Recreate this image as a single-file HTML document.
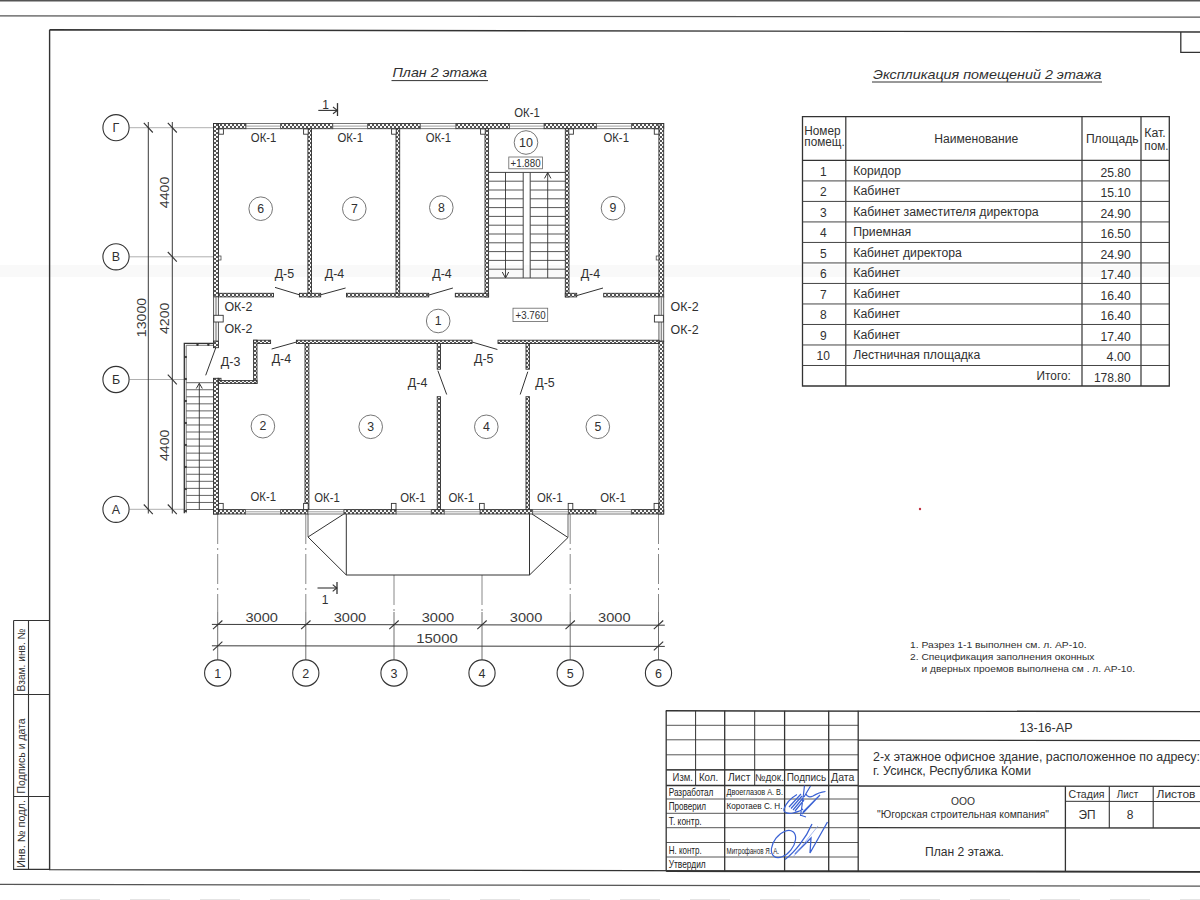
<!DOCTYPE html>
<html><head><meta charset="utf-8"><title>План 2 этажа</title>
<style>
html,body{margin:0;padding:0;background:#fff;}
body{width:1200px;height:900px;overflow:hidden;font-family:"Liberation Sans",sans-serif;}
svg{display:block;}
</style></head><body>
<svg width="1200" height="900" viewBox="0 0 1200 900" font-family="Liberation Sans">
<defs>
<pattern id="hatch" patternUnits="userSpaceOnUse" width="4" height="4">
<rect width="4" height="4" fill="#f8f8f8"/><rect width="2" height="2" fill="#555"/><rect x="2" y="2" width="2" height="2" fill="#555"/>
</pattern>
</defs>
<rect width="1200" height="900" fill="#fff"/>
<rect x="0" y="265" width="1200" height="12" fill="#f9f9f9"/>
<line x1="0" y1="0.8" x2="1200" y2="0.8" stroke="#555" stroke-width="1.6"/>
<line x1="0" y1="15.8" x2="1200" y2="17.2" stroke="#555" stroke-width="1.2"/>
<path d="M49.6 29.8 L1200 32 M49.6 29.8 L49.6 869.6 L1200 871.6" stroke="#333" stroke-width="1.4" fill="none"/>
<path d="M1180.8 32 L1180.8 52.4 L1200 52.4" stroke="#333" stroke-width="1.3" fill="none"/>
<line x1="0" y1="884.4" x2="1200" y2="886.2" stroke="#555" stroke-width="1.2"/>
<line x1="60" y1="899.5" x2="1200" y2="899.5" stroke="#e4e4e4" stroke-width="1" stroke-dasharray="40 30"/>
<path d="M13.6 620.5 L49.6 620.5 M13.6 620.5 L13.6 869.4 L49.6 869.4 M28.5 620.5 L28.5 869.4 M13.6 694.5 L49.6 694.5 M13.6 796.5 L49.6 796.5" stroke="#333" stroke-width="1.1" fill="none"/>
<text transform="translate(24.8,660) rotate(-90)" font-family="Liberation Sans" font-size="10.5" text-anchor="middle" fill="#333" textLength="63" lengthAdjust="spacingAndGlyphs">Взам. инв. №</text>
<text transform="translate(24.8,756) rotate(-90)" font-family="Liberation Sans" font-size="10.5" text-anchor="middle" fill="#333" textLength="75" lengthAdjust="spacingAndGlyphs">Подпись и дата</text>
<text transform="translate(24.8,834) rotate(-90)" font-family="Liberation Sans" font-size="10.5" text-anchor="middle" fill="#333" textLength="68" lengthAdjust="spacingAndGlyphs">Инв. № подл.</text>
<text x="392.5" y="76.5" font-size="13" text-anchor="start" fill="#303030" font-family="Liberation Sans" textLength="94.5" lengthAdjust="spacingAndGlyphs" font-style="italic">План 2 этажа</text>
<line x1="391.5" y1="80.6" x2="488" y2="80.6" stroke="#333" stroke-width="1"/>
<text x="873" y="79" font-size="13" text-anchor="start" fill="#303030" font-family="Liberation Sans" textLength="228.5" lengthAdjust="spacingAndGlyphs" font-style="italic">Экспликация помещений 2 этажа</text>
<line x1="872" y1="82" x2="1102" y2="82" stroke="#333" stroke-width="1"/>
<path d="M802.5 116.6 H1169.3 V386 H802.5 Z" stroke="#333" stroke-width="1.3" fill="none"/>
<line x1="845.8" y1="116.6" x2="845.8" y2="386" stroke="#333" stroke-width="1.2"/>
<line x1="1082" y1="116.6" x2="1082" y2="386" stroke="#333" stroke-width="1.2"/>
<line x1="1141" y1="116.6" x2="1141" y2="386" stroke="#333" stroke-width="1.2"/>
<line x1="802.5" y1="160.4" x2="1169.3" y2="160.4" stroke="#333" stroke-width="1.2"/>
<line x1="802.5" y1="180.91" x2="1169.3" y2="180.91" stroke="#444" stroke-width="1"/>
<line x1="802.5" y1="201.42" x2="1169.3" y2="201.42" stroke="#444" stroke-width="1"/>
<line x1="802.5" y1="221.93" x2="1169.3" y2="221.93" stroke="#444" stroke-width="1"/>
<line x1="802.5" y1="242.44" x2="1169.3" y2="242.44" stroke="#444" stroke-width="1"/>
<line x1="802.5" y1="262.95" x2="1169.3" y2="262.95" stroke="#444" stroke-width="1"/>
<line x1="802.5" y1="283.45" x2="1169.3" y2="283.45" stroke="#444" stroke-width="1"/>
<line x1="802.5" y1="303.96" x2="1169.3" y2="303.96" stroke="#444" stroke-width="1"/>
<line x1="802.5" y1="324.47" x2="1169.3" y2="324.47" stroke="#444" stroke-width="1"/>
<line x1="802.5" y1="344.98" x2="1169.3" y2="344.98" stroke="#444" stroke-width="1"/>
<line x1="802.5" y1="365.49" x2="1169.3" y2="365.49" stroke="#444" stroke-width="1"/>
<text x="804.3" y="135.2" font-size="12" text-anchor="start" fill="#303030" font-family="Liberation Sans" textLength="36.3" lengthAdjust="spacingAndGlyphs">Номер</text>
<text x="804.3" y="146.3" font-size="12" text-anchor="start" fill="#303030" font-family="Liberation Sans" textLength="40.4" lengthAdjust="spacingAndGlyphs">помещ.</text>
<text x="934.2" y="143" font-size="12" text-anchor="start" fill="#303030" font-family="Liberation Sans" textLength="84" lengthAdjust="spacingAndGlyphs">Наименование</text>
<text x="1085.9" y="143.2" font-size="12" text-anchor="start" fill="#303030" font-family="Liberation Sans" textLength="52.6" lengthAdjust="spacingAndGlyphs">Площадь</text>
<text x="1144.3" y="137.1" font-size="12" text-anchor="start" fill="#303030" font-family="Liberation Sans" textLength="21.5" lengthAdjust="spacingAndGlyphs">Кат.</text>
<text x="1144.3" y="150" font-size="12" text-anchor="start" fill="#303030" font-family="Liberation Sans" textLength="24.2" lengthAdjust="spacingAndGlyphs">пом.</text>
<text x="823.3" y="175.9" font-size="12" text-anchor="middle" fill="#303030" font-family="Liberation Sans">1</text>
<text x="853.2" y="174.6" font-size="12" text-anchor="start" fill="#303030" font-family="Liberation Sans" textLength="47.8" lengthAdjust="spacingAndGlyphs">Коридор</text>
<text x="1130.8" y="176.6" font-size="12" text-anchor="end" fill="#303030" font-family="Liberation Sans" textLength="30.4" lengthAdjust="spacingAndGlyphs">25.80</text>
<text x="823.3" y="196.41" font-size="12" text-anchor="middle" fill="#303030" font-family="Liberation Sans">2</text>
<text x="853.2" y="195.11" font-size="12" text-anchor="start" fill="#303030" font-family="Liberation Sans" textLength="47.1" lengthAdjust="spacingAndGlyphs">Кабинет</text>
<text x="1130.8" y="197.11" font-size="12" text-anchor="end" fill="#303030" font-family="Liberation Sans" textLength="30.4" lengthAdjust="spacingAndGlyphs">15.10</text>
<text x="823.3" y="216.92" font-size="12" text-anchor="middle" fill="#303030" font-family="Liberation Sans">3</text>
<text x="853.2" y="215.62" font-size="12" text-anchor="start" fill="#303030" font-family="Liberation Sans" textLength="185.5" lengthAdjust="spacingAndGlyphs">Кабинет заместителя директора</text>
<text x="1130.8" y="217.62" font-size="12" text-anchor="end" fill="#303030" font-family="Liberation Sans" textLength="30.4" lengthAdjust="spacingAndGlyphs">24.90</text>
<text x="823.3" y="237.43" font-size="12" text-anchor="middle" fill="#303030" font-family="Liberation Sans">4</text>
<text x="853.2" y="236.13" font-size="12" text-anchor="start" fill="#303030" font-family="Liberation Sans" textLength="58.1" lengthAdjust="spacingAndGlyphs">Приемная</text>
<text x="1130.8" y="238.13" font-size="12" text-anchor="end" fill="#303030" font-family="Liberation Sans" textLength="30.4" lengthAdjust="spacingAndGlyphs">16.50</text>
<text x="823.3" y="257.94" font-size="12" text-anchor="middle" fill="#303030" font-family="Liberation Sans">5</text>
<text x="853.2" y="256.64" font-size="12" text-anchor="start" fill="#303030" font-family="Liberation Sans" textLength="108.6" lengthAdjust="spacingAndGlyphs">Кабинет директора</text>
<text x="1130.8" y="258.64" font-size="12" text-anchor="end" fill="#303030" font-family="Liberation Sans" textLength="30.4" lengthAdjust="spacingAndGlyphs">24.90</text>
<text x="823.3" y="278.45" font-size="12" text-anchor="middle" fill="#303030" font-family="Liberation Sans">6</text>
<text x="853.2" y="277.15" font-size="12" text-anchor="start" fill="#303030" font-family="Liberation Sans" textLength="47.1" lengthAdjust="spacingAndGlyphs">Кабинет</text>
<text x="1130.8" y="279.15" font-size="12" text-anchor="end" fill="#303030" font-family="Liberation Sans" textLength="30.4" lengthAdjust="spacingAndGlyphs">17.40</text>
<text x="823.3" y="298.95" font-size="12" text-anchor="middle" fill="#303030" font-family="Liberation Sans">7</text>
<text x="853.2" y="297.65" font-size="12" text-anchor="start" fill="#303030" font-family="Liberation Sans" textLength="47.1" lengthAdjust="spacingAndGlyphs">Кабинет</text>
<text x="1130.8" y="299.65" font-size="12" text-anchor="end" fill="#303030" font-family="Liberation Sans" textLength="30.4" lengthAdjust="spacingAndGlyphs">16.40</text>
<text x="823.3" y="319.46" font-size="12" text-anchor="middle" fill="#303030" font-family="Liberation Sans">8</text>
<text x="853.2" y="318.16" font-size="12" text-anchor="start" fill="#303030" font-family="Liberation Sans" textLength="47.1" lengthAdjust="spacingAndGlyphs">Кабинет</text>
<text x="1130.8" y="320.16" font-size="12" text-anchor="end" fill="#303030" font-family="Liberation Sans" textLength="30.4" lengthAdjust="spacingAndGlyphs">16.40</text>
<text x="823.3" y="339.97" font-size="12" text-anchor="middle" fill="#303030" font-family="Liberation Sans">9</text>
<text x="853.2" y="338.67" font-size="12" text-anchor="start" fill="#303030" font-family="Liberation Sans" textLength="47.1" lengthAdjust="spacingAndGlyphs">Кабинет</text>
<text x="1130.8" y="340.67" font-size="12" text-anchor="end" fill="#303030" font-family="Liberation Sans" textLength="30.4" lengthAdjust="spacingAndGlyphs">17.40</text>
<text x="823.3" y="360.48" font-size="12" text-anchor="middle" fill="#303030" font-family="Liberation Sans">10</text>
<text x="853.2" y="359.18" font-size="12" text-anchor="start" fill="#303030" font-family="Liberation Sans" textLength="127.1" lengthAdjust="spacingAndGlyphs">Лестничная площадка</text>
<text x="1130.8" y="361.18" font-size="12" text-anchor="end" fill="#303030" font-family="Liberation Sans" textLength="24.3" lengthAdjust="spacingAndGlyphs">4.00</text>
<text x="1070.8" y="379.89" font-size="12" text-anchor="end" fill="#303030" font-family="Liberation Sans" textLength="34.2" lengthAdjust="spacingAndGlyphs">Итого:</text>
<text x="1130.8" y="381.69" font-size="12" text-anchor="end" fill="#303030" font-family="Liberation Sans" textLength="36.9" lengthAdjust="spacingAndGlyphs">178.80</text>
<text x="910" y="648.3" font-size="9.8" text-anchor="start" fill="#303030" font-family="Liberation Sans" textLength="176.5" lengthAdjust="spacingAndGlyphs">1. Разрез 1-1 выполнен см. л. АР-10.</text>
<text x="910" y="660.2" font-size="9.8" text-anchor="start" fill="#303030" font-family="Liberation Sans" textLength="184.5" lengthAdjust="spacingAndGlyphs">2. Спецификация заполнения оконных</text>
<text x="921.5" y="671.6" font-size="9.8" text-anchor="start" fill="#303030" font-family="Liberation Sans" textLength="213.5" lengthAdjust="spacingAndGlyphs">и дверных проемов выполнена см . л. АР-10.</text>
<circle cx="920" cy="509" r="1.2" fill="#c03040"/>
<path d="M665.8 710.8 L1200 711.6" stroke="#333" stroke-width="1.4" fill="none"/>
<line x1="666.2" y1="725.3" x2="858.2" y2="725.3" stroke="#444" stroke-width="0.9"/>
<line x1="666.2" y1="739.8" x2="858.2" y2="739.8" stroke="#444" stroke-width="0.9"/>
<line x1="666.2" y1="754.8" x2="858.2" y2="754.8" stroke="#444" stroke-width="0.9"/>
<line x1="666.2" y1="769.8" x2="858.2" y2="769.8" stroke="#444" stroke-width="0.9"/>
<line x1="666.2" y1="769.8" x2="858.2" y2="769.8" stroke="#333" stroke-width="1.2"/>
<line x1="666.2" y1="785.5" x2="858.2" y2="785.5" stroke="#333" stroke-width="1.3"/>
<line x1="666.2" y1="799" x2="858.2" y2="799" stroke="#444" stroke-width="0.9"/>
<line x1="666.2" y1="813.3" x2="858.2" y2="813.3" stroke="#444" stroke-width="0.9"/>
<line x1="666.2" y1="827.7" x2="858.2" y2="827.7" stroke="#444" stroke-width="0.9"/>
<line x1="666.2" y1="842.5" x2="858.2" y2="842.5" stroke="#444" stroke-width="0.9"/>
<line x1="666.2" y1="857" x2="858.2" y2="857" stroke="#444" stroke-width="0.9"/>
<path d="M666.2 871.3 L1200 872" stroke="#333" stroke-width="1.4" fill="none"/>
<line x1="666.2" y1="710.8" x2="666.2" y2="871.3" stroke="#333" stroke-width="1.3"/>
<line x1="724.7" y1="710.8" x2="724.7" y2="871.3" stroke="#333" stroke-width="1.3"/>
<line x1="784.6" y1="710.8" x2="784.6" y2="871.3" stroke="#333" stroke-width="1.3"/>
<line x1="828.7" y1="710.8" x2="828.7" y2="871.3" stroke="#333" stroke-width="1.3"/>
<line x1="858.2" y1="710.8" x2="858.2" y2="871.3" stroke="#333" stroke-width="1.3"/>
<line x1="695.6" y1="710.8" x2="695.6" y2="785.5" stroke="#333" stroke-width="1"/>
<line x1="754.7" y1="710.8" x2="754.7" y2="785.5" stroke="#333" stroke-width="1"/>
<line x1="858.2" y1="740.2" x2="1200" y2="740.6" stroke="#333" stroke-width="1.2"/>
<line x1="858.2" y1="786" x2="1200" y2="786.4" stroke="#333" stroke-width="1.3"/>
<line x1="1065.4" y1="801.3" x2="1200" y2="801.6" stroke="#333" stroke-width="1"/>
<line x1="858.2" y1="827.7" x2="1200" y2="828" stroke="#333" stroke-width="1.3"/>
<line x1="1065.4" y1="786.2" x2="1065.4" y2="871.8" stroke="#333" stroke-width="1.3"/>
<line x1="1109.3" y1="786.2" x2="1109.3" y2="828" stroke="#333" stroke-width="1.1"/>
<line x1="1153.2" y1="786.2" x2="1153.2" y2="828" stroke="#333" stroke-width="1.1"/>
<text x="672.6" y="781.2" font-size="10" text-anchor="start" fill="#303030" font-family="Liberation Sans" textLength="20.4" lengthAdjust="spacingAndGlyphs">Изм.</text>
<text x="698.9" y="781.2" font-size="10" text-anchor="start" fill="#303030" font-family="Liberation Sans" textLength="19.4" lengthAdjust="spacingAndGlyphs">Кол.</text>
<text x="728" y="781.2" font-size="10" text-anchor="start" fill="#303030" font-family="Liberation Sans" textLength="22.4" lengthAdjust="spacingAndGlyphs">Лист</text>
<text x="754.9" y="781.2" font-size="10" text-anchor="start" fill="#303030" font-family="Liberation Sans" textLength="29" lengthAdjust="spacingAndGlyphs">№док.</text>
<text x="786.7" y="781.2" font-size="10" text-anchor="start" fill="#303030" font-family="Liberation Sans" textLength="39.5" lengthAdjust="spacingAndGlyphs">Подпись</text>
<text x="831" y="781.2" font-size="10" text-anchor="start" fill="#303030" font-family="Liberation Sans" textLength="23.4" lengthAdjust="spacingAndGlyphs">Дата</text>
<text x="668.7" y="796.12" font-size="10.6" text-anchor="start" fill="#222" font-family="Liberation Sans" textLength="44.7" lengthAdjust="spacingAndGlyphs">Разработал</text>
<text x="668.7" y="810.32" font-size="10.6" text-anchor="start" fill="#222" font-family="Liberation Sans" textLength="37.3" lengthAdjust="spacingAndGlyphs">Проверил</text>
<text x="668.7" y="824.82" font-size="10.6" text-anchor="start" fill="#222" font-family="Liberation Sans" textLength="33" lengthAdjust="spacingAndGlyphs">Т. контр.</text>
<text x="668.7" y="853.82" font-size="10.6" text-anchor="start" fill="#222" font-family="Liberation Sans" textLength="33" lengthAdjust="spacingAndGlyphs">Н. контр.</text>
<text x="668.7" y="868.32" font-size="10.6" text-anchor="start" fill="#222" font-family="Liberation Sans" textLength="37" lengthAdjust="spacingAndGlyphs">Утвердил</text>
<text x="726.5" y="794.85" font-size="9.3" text-anchor="start" fill="#222" font-family="Liberation Sans" textLength="56.5" lengthAdjust="spacingAndGlyphs">Двоеглазов А. В.</text>
<text x="726.5" y="809.35" font-size="9.3" text-anchor="start" fill="#222" font-family="Liberation Sans" textLength="56" lengthAdjust="spacingAndGlyphs">Коротаев С. Н.</text>
<text x="726.5" y="853.74" font-size="9" text-anchor="start" fill="#222" font-family="Liberation Sans" textLength="52.5" lengthAdjust="spacingAndGlyphs">Митрофанов Я. А.</text>
<text x="1046" y="731.88" font-size="13" text-anchor="middle" fill="#303030" font-family="Liberation Sans" textLength="53" lengthAdjust="spacingAndGlyphs">13-16-АР</text>
<text x="873" y="761" font-size="12.5" text-anchor="start" fill="#303030" font-family="Liberation Sans" textLength="327" lengthAdjust="spacingAndGlyphs">2-х этажное офисное здание, расположенное по адресу:</text>
<text x="873" y="775" font-size="12.5" text-anchor="start" fill="#303030" font-family="Liberation Sans" textLength="158" lengthAdjust="spacingAndGlyphs">г. Усинск, Республика Коми</text>
<text x="963" y="804.98" font-size="10.5" text-anchor="middle" fill="#303030" font-family="Liberation Sans" textLength="24" lengthAdjust="spacingAndGlyphs">ООО</text>
<text x="963" y="818.08" font-size="10.5" text-anchor="middle" fill="#303030" font-family="Liberation Sans" textLength="172" lengthAdjust="spacingAndGlyphs">"Югорская строительная компания"</text>
<text x="964.5" y="856" font-size="12.5" text-anchor="middle" fill="#303030" font-family="Liberation Sans" textLength="79" lengthAdjust="spacingAndGlyphs">План 2 этажа.</text>
<text x="1086.5" y="797.78" font-size="10.5" text-anchor="middle" fill="#303030" font-family="Liberation Sans" textLength="36" lengthAdjust="spacingAndGlyphs">Стадия</text>
<text x="1127.5" y="798.08" font-size="10.5" text-anchor="middle" fill="#303030" font-family="Liberation Sans" textLength="21.5" lengthAdjust="spacingAndGlyphs">Лист</text>
<text x="1176" y="797.78" font-size="10.5" text-anchor="middle" fill="#303030" font-family="Liberation Sans" textLength="39" lengthAdjust="spacingAndGlyphs">Листов</text>
<text x="1087" y="818.62" font-size="12" text-anchor="middle" fill="#303030" font-family="Liberation Sans" textLength="17" lengthAdjust="spacingAndGlyphs">ЭП</text>
<text x="1130" y="818.62" font-size="12" text-anchor="middle" fill="#303030" font-family="Liberation Sans">8</text>
<path d="M804.5 785.5 C 803.5 795, 802 806, 800.5 816 M810.5 786 L804 797 M806 794 C 807 797, 810 797.5, 813 796 C 816 794, 820 792, 825.5 791.5 M820 795 L802 814 M817 798 L803 812 M797 794.5 C 791 798, 786 803, 784 809 C 783 813, 789 814, 793 813 C 797 812, 801 811, 803 809 M789 807 L801 794 M791 808.5 L802 796 M793 810 L803 798 M795 811 L804 800 M800 815 L806 817" stroke="#3b62d4" stroke-width="1.2" fill="none"/>
<ellipse cx="783.5" cy="844" rx="9.5" ry="15.5" transform="rotate(38 783.5 844)" fill="none" stroke="#3b62d4" stroke-width="1.2"/>
<path d="M785 859.5 C 795 852, 806 838, 812 824 M795 854 L811 838 L810 853 L827.5 822" stroke="#3b62d4" stroke-width="1.3" fill="none"/>
<path d="M 793 857 L 818 826" stroke="#7f9be6" stroke-width="0.7" fill="none"/>
<line x1="129.5" y1="127.7" x2="214" y2="127.7" stroke="#b0b0b0" stroke-width="1"/>
<line x1="129.5" y1="256.8" x2="214" y2="256.8" stroke="#b0b0b0" stroke-width="1"/>
<line x1="129.5" y1="379.5" x2="184.4" y2="379.5" stroke="#b0b0b0" stroke-width="1"/>
<line x1="129.5" y1="509.3" x2="184.4" y2="509.3" stroke="#b0b0b0" stroke-width="1"/>
<line x1="217.7" y1="514" x2="217.7" y2="612" stroke="#888" stroke-width="1" stroke-dasharray="30 4 2 4"/>
<line x1="217.7" y1="612" x2="217.7" y2="659.8" stroke="#707070" stroke-width="1"/>
<line x1="305.8" y1="514" x2="305.8" y2="612" stroke="#888" stroke-width="1" stroke-dasharray="30 4 2 4"/>
<line x1="305.8" y1="612" x2="305.8" y2="659.8" stroke="#707070" stroke-width="1"/>
<line x1="394" y1="575" x2="394" y2="612" stroke="#888" stroke-width="1" stroke-dasharray="30 4 2 4"/>
<line x1="394" y1="612" x2="394" y2="659.8" stroke="#707070" stroke-width="1"/>
<line x1="482" y1="575" x2="482" y2="612" stroke="#888" stroke-width="1" stroke-dasharray="30 4 2 4"/>
<line x1="482" y1="612" x2="482" y2="659.8" stroke="#707070" stroke-width="1"/>
<line x1="570.2" y1="514" x2="570.2" y2="612" stroke="#888" stroke-width="1" stroke-dasharray="30 4 2 4"/>
<line x1="570.2" y1="612" x2="570.2" y2="659.8" stroke="#707070" stroke-width="1"/>
<line x1="658.5" y1="514" x2="658.5" y2="612" stroke="#888" stroke-width="1" stroke-dasharray="30 4 2 4"/>
<line x1="658.5" y1="612" x2="658.5" y2="659.8" stroke="#707070" stroke-width="1"/>
<line x1="148.3" y1="122" x2="148.3" y2="513.5" stroke="#3a3a3a" stroke-width="1"/>
<line x1="172.3" y1="122" x2="172.3" y2="513.5" stroke="#3a3a3a" stroke-width="1"/>
<line x1="143.8" y1="122.9" x2="152.8" y2="132.5" stroke="#333" stroke-width="1.1"/>
<line x1="143.8" y1="504.5" x2="152.8" y2="514.1" stroke="#333" stroke-width="1.1"/>
<line x1="167.8" y1="122.9" x2="176.8" y2="132.5" stroke="#333" stroke-width="1.1"/>
<line x1="167.8" y1="252" x2="176.8" y2="261.6" stroke="#333" stroke-width="1.1"/>
<line x1="167.8" y1="374.7" x2="176.8" y2="384.3" stroke="#333" stroke-width="1.1"/>
<line x1="167.8" y1="504.5" x2="176.8" y2="514.1" stroke="#333" stroke-width="1.1"/>
<line x1="211.9" y1="624.4" x2="664.8" y2="625.2" stroke="#3a3a3a" stroke-width="1"/>
<line x1="211.9" y1="645.8" x2="664.8" y2="646.4" stroke="#3a3a3a" stroke-width="1"/>
<line x1="213" y1="629.1" x2="222.4" y2="620.5" stroke="#333" stroke-width="1.1"/>
<line x1="301.1" y1="629.1" x2="310.5" y2="620.5" stroke="#333" stroke-width="1.1"/>
<line x1="389.3" y1="629.1" x2="398.7" y2="620.5" stroke="#333" stroke-width="1.1"/>
<line x1="477.3" y1="629.1" x2="486.7" y2="620.5" stroke="#333" stroke-width="1.1"/>
<line x1="565.5" y1="629.1" x2="574.9" y2="620.5" stroke="#333" stroke-width="1.1"/>
<line x1="653.8" y1="629.1" x2="663.2" y2="620.5" stroke="#333" stroke-width="1.1"/>
<line x1="213" y1="650.3" x2="222.4" y2="641.7" stroke="#333" stroke-width="1.1"/>
<line x1="653.8" y1="650.3" x2="663.2" y2="641.7" stroke="#333" stroke-width="1.1"/>
<text x="261.75" y="621.8" font-size="13" text-anchor="middle" fill="#3a3a3a" font-family="Liberation Sans" textLength="32.5" lengthAdjust="spacingAndGlyphs">3000</text>
<text x="349.9" y="621.8" font-size="13" text-anchor="middle" fill="#3a3a3a" font-family="Liberation Sans" textLength="32.5" lengthAdjust="spacingAndGlyphs">3000</text>
<text x="438" y="621.8" font-size="13" text-anchor="middle" fill="#3a3a3a" font-family="Liberation Sans" textLength="32.5" lengthAdjust="spacingAndGlyphs">3000</text>
<text x="526.1" y="621.8" font-size="13" text-anchor="middle" fill="#3a3a3a" font-family="Liberation Sans" textLength="32.5" lengthAdjust="spacingAndGlyphs">3000</text>
<text x="614.35" y="621.8" font-size="13" text-anchor="middle" fill="#3a3a3a" font-family="Liberation Sans" textLength="32.5" lengthAdjust="spacingAndGlyphs">3000</text>
<text x="437" y="643.2" font-size="13" text-anchor="middle" fill="#3a3a3a" font-family="Liberation Sans" textLength="41.5" lengthAdjust="spacingAndGlyphs">15000</text>
<text transform="translate(169.3,192.4) rotate(-90)" font-family="Liberation Sans" font-size="13" text-anchor="middle" fill="#3a3a3a" textLength="31.5" lengthAdjust="spacingAndGlyphs">4400</text>
<text transform="translate(169.3,318.3) rotate(-90)" font-family="Liberation Sans" font-size="13" text-anchor="middle" fill="#3a3a3a" textLength="31.5" lengthAdjust="spacingAndGlyphs">4200</text>
<text transform="translate(169.3,445.3) rotate(-90)" font-family="Liberation Sans" font-size="13" text-anchor="middle" fill="#3a3a3a" textLength="31.5" lengthAdjust="spacingAndGlyphs">4400</text>
<text transform="translate(145.8,317.5) rotate(-90)" font-family="Liberation Sans" font-size="13" text-anchor="middle" fill="#3a3a3a" textLength="39.5" lengthAdjust="spacingAndGlyphs">13000</text>
<circle cx="116" cy="127.7" r="13.1" stroke="#333" stroke-width="1.1" fill="#fff"/>
<text x="116" y="132.2" font-size="12.5" text-anchor="middle" fill="#303030" font-family="Liberation Sans">Г</text>
<circle cx="116" cy="256.8" r="13.1" stroke="#333" stroke-width="1.1" fill="#fff"/>
<text x="116" y="261.3" font-size="12.5" text-anchor="middle" fill="#303030" font-family="Liberation Sans">В</text>
<circle cx="116" cy="379.5" r="13.1" stroke="#333" stroke-width="1.1" fill="#fff"/>
<text x="116" y="384" font-size="12.5" text-anchor="middle" fill="#303030" font-family="Liberation Sans">Б</text>
<circle cx="116" cy="509.3" r="13.1" stroke="#333" stroke-width="1.1" fill="#fff"/>
<text x="116" y="513.8" font-size="12.5" text-anchor="middle" fill="#303030" font-family="Liberation Sans">А</text>
<circle cx="217.7" cy="673" r="13.1" stroke="#333" stroke-width="1.1" fill="#fff"/>
<text x="217.7" y="677.5" font-size="12.5" text-anchor="middle" fill="#303030" font-family="Liberation Sans">1</text>
<circle cx="305.8" cy="673" r="13.1" stroke="#333" stroke-width="1.1" fill="#fff"/>
<text x="305.8" y="677.5" font-size="12.5" text-anchor="middle" fill="#303030" font-family="Liberation Sans">2</text>
<circle cx="394" cy="673" r="13.1" stroke="#333" stroke-width="1.1" fill="#fff"/>
<text x="394" y="677.5" font-size="12.5" text-anchor="middle" fill="#303030" font-family="Liberation Sans">3</text>
<circle cx="482" cy="673" r="13.1" stroke="#333" stroke-width="1.1" fill="#fff"/>
<text x="482" y="677.5" font-size="12.5" text-anchor="middle" fill="#303030" font-family="Liberation Sans">4</text>
<circle cx="570.2" cy="673" r="13.1" stroke="#333" stroke-width="1.1" fill="#fff"/>
<text x="570.2" y="677.5" font-size="12.5" text-anchor="middle" fill="#303030" font-family="Liberation Sans">5</text>
<circle cx="658.5" cy="673" r="13.1" stroke="#333" stroke-width="1.1" fill="#fff"/>
<text x="658.5" y="677.5" font-size="12.5" text-anchor="middle" fill="#303030" font-family="Liberation Sans">6</text>
<path d="M343.8 514 L308 537 L346.3 575 L529.5 575 L568 537.5 L532 514" stroke="#333" stroke-width="1" fill="none"/>
<line x1="346.3" y1="514" x2="346.3" y2="575" stroke="#333" stroke-width="1"/>
<line x1="529.5" y1="514" x2="529.5" y2="575" stroke="#333" stroke-width="1"/>
<line x1="308" y1="514" x2="308" y2="537" stroke="#555" stroke-width="0.9"/>
<line x1="568" y1="514" x2="568" y2="537.5" stroke="#555" stroke-width="0.9"/>
<line x1="318.3" y1="110.4" x2="337.5" y2="110.4" stroke="#333" stroke-width="1.1"/>
<line x1="337.5" y1="103.1" x2="337.5" y2="116" stroke="#333" stroke-width="1.3"/>
<path d="M333 107 L337.3 110.4 L333 113.7" stroke="#333" stroke-width="1.1" fill="none"/>
<text x="325.5" y="108.82" font-size="12" text-anchor="middle" fill="#303030" font-family="Liberation Sans">1</text>
<line x1="317.5" y1="588" x2="337" y2="588" stroke="#333" stroke-width="1.1"/>
<line x1="337" y1="582" x2="337" y2="594" stroke="#333" stroke-width="1.3"/>
<path d="M332.7 584.6 L336.8 588 L332.7 591.4" stroke="#333" stroke-width="1.1" fill="none"/>
<text x="325" y="603.82" font-size="12" text-anchor="middle" fill="#303030" font-family="Liberation Sans">1</text>
<line x1="488.6" y1="172.4" x2="565.3" y2="172.4" stroke="#444" stroke-width="1"/>
<line x1="488.6" y1="278" x2="565.3" y2="278" stroke="#444" stroke-width="1"/>
<line x1="488.6" y1="181.2" x2="523.2" y2="181.2" stroke="#444" stroke-width="0.9"/>
<line x1="530.2" y1="181.2" x2="565.3" y2="181.2" stroke="#444" stroke-width="0.9"/>
<line x1="488.6" y1="190" x2="523.2" y2="190" stroke="#444" stroke-width="0.9"/>
<line x1="530.2" y1="190" x2="565.3" y2="190" stroke="#444" stroke-width="0.9"/>
<line x1="488.6" y1="198.8" x2="523.2" y2="198.8" stroke="#444" stroke-width="0.9"/>
<line x1="530.2" y1="198.8" x2="565.3" y2="198.8" stroke="#444" stroke-width="0.9"/>
<line x1="488.6" y1="207.6" x2="523.2" y2="207.6" stroke="#444" stroke-width="0.9"/>
<line x1="530.2" y1="207.6" x2="565.3" y2="207.6" stroke="#444" stroke-width="0.9"/>
<line x1="488.6" y1="216.4" x2="523.2" y2="216.4" stroke="#444" stroke-width="0.9"/>
<line x1="530.2" y1="216.4" x2="565.3" y2="216.4" stroke="#444" stroke-width="0.9"/>
<line x1="488.6" y1="225.2" x2="523.2" y2="225.2" stroke="#444" stroke-width="0.9"/>
<line x1="530.2" y1="225.2" x2="565.3" y2="225.2" stroke="#444" stroke-width="0.9"/>
<line x1="488.6" y1="234" x2="523.2" y2="234" stroke="#444" stroke-width="0.9"/>
<line x1="530.2" y1="234" x2="565.3" y2="234" stroke="#444" stroke-width="0.9"/>
<line x1="488.6" y1="242.8" x2="523.2" y2="242.8" stroke="#444" stroke-width="0.9"/>
<line x1="530.2" y1="242.8" x2="565.3" y2="242.8" stroke="#444" stroke-width="0.9"/>
<line x1="488.6" y1="251.6" x2="523.2" y2="251.6" stroke="#444" stroke-width="0.9"/>
<line x1="530.2" y1="251.6" x2="565.3" y2="251.6" stroke="#444" stroke-width="0.9"/>
<line x1="488.6" y1="260.4" x2="523.2" y2="260.4" stroke="#444" stroke-width="0.9"/>
<line x1="530.2" y1="260.4" x2="565.3" y2="260.4" stroke="#444" stroke-width="0.9"/>
<line x1="488.6" y1="269.2" x2="523.2" y2="269.2" stroke="#444" stroke-width="0.9"/>
<line x1="530.2" y1="269.2" x2="565.3" y2="269.2" stroke="#444" stroke-width="0.9"/>
<line x1="523.2" y1="172.4" x2="523.2" y2="278" stroke="#444" stroke-width="1"/>
<line x1="530.2" y1="172.4" x2="530.2" y2="278" stroke="#444" stroke-width="1"/>
<line x1="505.5" y1="172.4" x2="505.5" y2="278" stroke="#333" stroke-width="0.9"/>
<path d="M502.3 272 L505.5 278 L508.7 272" stroke="#333" stroke-width="1" fill="none"/>
<line x1="547.7" y1="278" x2="547.7" y2="172.4" stroke="#333" stroke-width="0.9"/>
<path d="M544.5 178.4 L547.7 172.6 L550.9 178.4" stroke="#333" stroke-width="1" fill="none"/>
<path d="M213.5 343.4 L184.3 343.4 L184.3 513.2" stroke="#333" stroke-width="1.3" fill="none"/>
<path d="M213.5 345.3 L186.2 345.3 L186.2 513.2" stroke="#555" stroke-width="0.8" fill="none"/>
<rect x="196.8" y="343.6" width="1.4" height="2" stroke="#333" stroke-width="0.6" fill="#333"/>
<rect x="207.7" y="343.6" width="1.4" height="2" stroke="#333" stroke-width="0.6" fill="#333"/>
<rect x="184.6" y="356.2" width="2" height="1.6" stroke="#333" stroke-width="0.5" fill="#333"/>
<rect x="184.6" y="378.2" width="2" height="1.6" stroke="#333" stroke-width="0.5" fill="#333"/>
<rect x="184.6" y="400.2" width="2" height="1.6" stroke="#333" stroke-width="0.5" fill="#333"/>
<rect x="184.6" y="422.2" width="2" height="1.6" stroke="#333" stroke-width="0.5" fill="#333"/>
<rect x="184.6" y="444.2" width="2" height="1.6" stroke="#333" stroke-width="0.5" fill="#333"/>
<rect x="184.6" y="466.2" width="2" height="1.6" stroke="#333" stroke-width="0.5" fill="#333"/>
<rect x="184.6" y="488.2" width="2" height="1.6" stroke="#333" stroke-width="0.5" fill="#333"/>
<rect x="184.6" y="510.2" width="2" height="1.6" stroke="#333" stroke-width="0.5" fill="#333"/>
<line x1="186.2" y1="382.7" x2="213.5" y2="382.7" stroke="#555" stroke-width="0.9"/>
<line x1="186.2" y1="389.74" x2="213.5" y2="389.74" stroke="#555" stroke-width="0.9"/>
<line x1="186.2" y1="396.79" x2="213.5" y2="396.79" stroke="#555" stroke-width="0.9"/>
<line x1="186.2" y1="403.83" x2="213.5" y2="403.83" stroke="#555" stroke-width="0.9"/>
<line x1="186.2" y1="410.88" x2="213.5" y2="410.88" stroke="#555" stroke-width="0.9"/>
<line x1="186.2" y1="417.92" x2="213.5" y2="417.92" stroke="#555" stroke-width="0.9"/>
<line x1="186.2" y1="424.97" x2="213.5" y2="424.97" stroke="#555" stroke-width="0.9"/>
<line x1="186.2" y1="432.01" x2="213.5" y2="432.01" stroke="#555" stroke-width="0.9"/>
<line x1="186.2" y1="439.06" x2="213.5" y2="439.06" stroke="#555" stroke-width="0.9"/>
<line x1="186.2" y1="446.1" x2="213.5" y2="446.1" stroke="#555" stroke-width="0.9"/>
<line x1="186.2" y1="453.14" x2="213.5" y2="453.14" stroke="#555" stroke-width="0.9"/>
<line x1="186.2" y1="460.19" x2="213.5" y2="460.19" stroke="#555" stroke-width="0.9"/>
<line x1="186.2" y1="467.23" x2="213.5" y2="467.23" stroke="#555" stroke-width="0.9"/>
<line x1="186.2" y1="474.28" x2="213.5" y2="474.28" stroke="#555" stroke-width="0.9"/>
<line x1="186.2" y1="481.32" x2="213.5" y2="481.32" stroke="#555" stroke-width="0.9"/>
<line x1="186.2" y1="488.37" x2="213.5" y2="488.37" stroke="#555" stroke-width="0.9"/>
<line x1="186.2" y1="495.41" x2="213.5" y2="495.41" stroke="#555" stroke-width="0.9"/>
<line x1="186.2" y1="502.46" x2="213.5" y2="502.46" stroke="#555" stroke-width="0.9"/>
<line x1="186.2" y1="509.5" x2="213.5" y2="509.5" stroke="#555" stroke-width="0.9"/>
<line x1="199.3" y1="509.5" x2="199.3" y2="383.3" stroke="#333" stroke-width="0.9"/>
<path d="M196.3 388.5 L199.3 383.3 L202.3 388.5" stroke="#333" stroke-width="1" fill="none"/>
<rect x="213.5" y="123.5" width="32.5" height="5.2" fill="url(#hatch)" stroke="#303030" stroke-width="0.9"/>
<rect x="280.5" y="123.5" width="52.3" height="5.2" fill="url(#hatch)" stroke="#303030" stroke-width="0.9"/>
<rect x="367.6" y="123.5" width="52.7" height="5.2" fill="url(#hatch)" stroke="#303030" stroke-width="0.9"/>
<rect x="455.8" y="123.5" width="53.7" height="5.2" fill="url(#hatch)" stroke="#303030" stroke-width="0.9"/>
<rect x="544" y="123.5" width="52.5" height="5.2" fill="url(#hatch)" stroke="#303030" stroke-width="0.9"/>
<rect x="631.5" y="123.5" width="32.2" height="5.2" fill="url(#hatch)" stroke="#303030" stroke-width="0.9"/>
<rect x="246" y="123.5" width="34.5" height="5.2" fill="#fff" stroke="#555" stroke-width="0.8"/>
<line x1="246" y1="126.1" x2="280.5" y2="126.1" stroke="#777" stroke-width="0.7"/>
<rect x="332.8" y="123.5" width="34.8" height="5.2" fill="#fff" stroke="#555" stroke-width="0.8"/>
<line x1="332.8" y1="126.1" x2="367.6" y2="126.1" stroke="#777" stroke-width="0.7"/>
<rect x="420.3" y="123.5" width="35.5" height="5.2" fill="#fff" stroke="#555" stroke-width="0.8"/>
<line x1="420.3" y1="126.1" x2="455.8" y2="126.1" stroke="#777" stroke-width="0.7"/>
<rect x="509.5" y="123.5" width="34.5" height="5.2" fill="#fff" stroke="#555" stroke-width="0.8"/>
<line x1="509.5" y1="126.1" x2="544" y2="126.1" stroke="#777" stroke-width="0.7"/>
<rect x="596.5" y="123.5" width="35" height="5.2" fill="#fff" stroke="#555" stroke-width="0.8"/>
<line x1="596.5" y1="126.1" x2="631.5" y2="126.1" stroke="#777" stroke-width="0.7"/>
<rect x="213.5" y="509.6" width="32" height="4.4" fill="url(#hatch)" stroke="#303030" stroke-width="0.9"/>
<rect x="280.4" y="509.6" width="27.6" height="4.4" fill="url(#hatch)" stroke="#303030" stroke-width="0.9"/>
<rect x="343.8" y="509.6" width="52.4" height="4.4" fill="url(#hatch)" stroke="#303030" stroke-width="0.9"/>
<rect x="431.2" y="509.6" width="13.1" height="4.4" fill="url(#hatch)" stroke="#303030" stroke-width="0.9"/>
<rect x="480" y="509.6" width="52.7" height="4.4" fill="url(#hatch)" stroke="#303030" stroke-width="0.9"/>
<rect x="568.3" y="509.6" width="27.7" height="4.4" fill="url(#hatch)" stroke="#303030" stroke-width="0.9"/>
<rect x="631.3" y="509.6" width="32.4" height="4.4" fill="url(#hatch)" stroke="#303030" stroke-width="0.9"/>
<rect x="245.5" y="509.6" width="34.9" height="4.4" fill="#fff" stroke="#555" stroke-width="0.8"/>
<line x1="245.5" y1="511.8" x2="280.4" y2="511.8" stroke="#777" stroke-width="0.7"/>
<rect x="308" y="509.6" width="35.8" height="4.4" fill="#fff" stroke="#555" stroke-width="0.8"/>
<line x1="308" y1="511.8" x2="343.8" y2="511.8" stroke="#777" stroke-width="0.7"/>
<rect x="396.2" y="509.6" width="35" height="4.4" fill="#fff" stroke="#555" stroke-width="0.8"/>
<line x1="396.2" y1="511.8" x2="431.2" y2="511.8" stroke="#777" stroke-width="0.7"/>
<rect x="444.3" y="509.6" width="35.7" height="4.4" fill="#fff" stroke="#555" stroke-width="0.8"/>
<line x1="444.3" y1="511.8" x2="480" y2="511.8" stroke="#777" stroke-width="0.7"/>
<rect x="532.7" y="509.6" width="35.6" height="4.4" fill="#fff" stroke="#555" stroke-width="0.8"/>
<line x1="532.7" y1="511.8" x2="568.3" y2="511.8" stroke="#777" stroke-width="0.7"/>
<rect x="596" y="509.6" width="35.3" height="4.4" fill="#fff" stroke="#555" stroke-width="0.8"/>
<line x1="596" y1="511.8" x2="631.3" y2="511.8" stroke="#777" stroke-width="0.7"/>
<rect x="213.5" y="123.5" width="5" height="173.4" fill="url(#hatch)" stroke="#303030" stroke-width="0.9"/>
<rect x="213.5" y="296.9" width="5" height="44.3" fill="#f0f0f0" stroke="#555" stroke-width="0.9"/>
<line x1="216" y1="296.9" x2="216" y2="341.2" stroke="#666" stroke-width="0.9"/>
<rect x="213.5" y="341.2" width="5" height="6.5" fill="url(#hatch)" stroke="#303030" stroke-width="0.9"/>
<rect x="213.5" y="378.3" width="5" height="135.7" fill="url(#hatch)" stroke="#303030" stroke-width="0.9"/>
<rect x="218" y="378.3" width="3" height="5.1" fill="url(#hatch)" stroke="#303030" stroke-width="0.9"/>
<rect x="658.9" y="123.5" width="4.8" height="173.4" fill="url(#hatch)" stroke="#303030" stroke-width="0.9"/>
<rect x="658.9" y="296.9" width="4.8" height="44.3" fill="#f0f0f0" stroke="#555" stroke-width="0.9"/>
<line x1="661.3" y1="296.9" x2="661.3" y2="341.2" stroke="#666" stroke-width="0.9"/>
<rect x="658.9" y="341.2" width="4.8" height="172.8" fill="url(#hatch)" stroke="#303030" stroke-width="0.9"/>
<rect x="307.9" y="128.7" width="3.6" height="168.2" fill="url(#hatch)" stroke="#303030" stroke-width="0.9"/>
<rect x="396" y="128.7" width="3.7" height="168.2" fill="url(#hatch)" stroke="#303030" stroke-width="0.9"/>
<rect x="485" y="128.7" width="3.6" height="168.2" fill="url(#hatch)" stroke="#303030" stroke-width="0.9"/>
<rect x="565.3" y="128.7" width="3.7" height="168.2" fill="url(#hatch)" stroke="#303030" stroke-width="0.9"/>
<rect x="218.5" y="293.3" width="55" height="3.6" fill="url(#hatch)" stroke="#303030" stroke-width="0.9"/>
<rect x="299.4" y="293.3" width="21.3" height="3.6" fill="url(#hatch)" stroke="#303030" stroke-width="0.9"/>
<rect x="346.5" y="293.3" width="82.2" height="3.6" fill="url(#hatch)" stroke="#303030" stroke-width="0.9"/>
<rect x="455.3" y="293.3" width="33.3" height="3.6" fill="url(#hatch)" stroke="#303030" stroke-width="0.9"/>
<rect x="565.3" y="293.3" width="11.4" height="3.6" fill="url(#hatch)" stroke="#303030" stroke-width="0.9"/>
<rect x="603.7" y="293.3" width="55.2" height="3.6" fill="url(#hatch)" stroke="#303030" stroke-width="0.9"/>
<rect x="253.6" y="340.2" width="17" height="3.3" fill="url(#hatch)" stroke="#303030" stroke-width="0.9"/>
<rect x="296.4" y="340.2" width="175.6" height="3.3" fill="url(#hatch)" stroke="#303030" stroke-width="0.9"/>
<rect x="498" y="340.2" width="160.9" height="3.3" fill="url(#hatch)" stroke="#303030" stroke-width="0.9"/>
<rect x="253.6" y="340.2" width="3.4" height="43.2" fill="url(#hatch)" stroke="#303030" stroke-width="0.9"/>
<rect x="218.5" y="380.6" width="38.5" height="2.8" fill="url(#hatch)" stroke="#303030" stroke-width="0.9"/>
<rect x="305" y="343.5" width="3.9" height="166.1" fill="url(#hatch)" stroke="#303030" stroke-width="0.9"/>
<rect x="437.2" y="343.5" width="3.3" height="25.7" fill="url(#hatch)" stroke="#303030" stroke-width="0.9"/>
<rect x="437.2" y="396.7" width="3.3" height="112.9" fill="url(#hatch)" stroke="#303030" stroke-width="0.9"/>
<rect x="526" y="343.5" width="3.4" height="25.7" fill="url(#hatch)" stroke="#303030" stroke-width="0.9"/>
<rect x="526" y="396.7" width="3.4" height="112.9" fill="url(#hatch)" stroke="#303030" stroke-width="0.9"/>
<rect x="218.8" y="128.9" width="4.6" height="5.3" stroke="#333" stroke-width="0.9" fill="#fff"/>
<rect x="303.6" y="128.9" width="4.6" height="5.3" stroke="#333" stroke-width="0.9" fill="#fff"/>
<rect x="391.6" y="128.9" width="4.6" height="5.3" stroke="#333" stroke-width="0.9" fill="#fff"/>
<rect x="480.6" y="128.9" width="4.6" height="5.3" stroke="#333" stroke-width="0.9" fill="#fff"/>
<rect x="568.8" y="128.9" width="4.6" height="5.3" stroke="#333" stroke-width="0.9" fill="#fff"/>
<rect x="654.3" y="128.9" width="4.6" height="5.3" stroke="#333" stroke-width="0.9" fill="#fff"/>
<rect x="218.6" y="503.4" width="4.6" height="6.2" stroke="#333" stroke-width="0.9" fill="#fff"/>
<rect x="303.6" y="503.4" width="4.6" height="6.2" stroke="#333" stroke-width="0.9" fill="#fff"/>
<rect x="391.4" y="503.4" width="4.6" height="6.2" stroke="#333" stroke-width="0.9" fill="#fff"/>
<rect x="479.6" y="503.4" width="4.6" height="6.2" stroke="#333" stroke-width="0.9" fill="#fff"/>
<rect x="568.2" y="503.4" width="4.6" height="6.2" stroke="#333" stroke-width="0.9" fill="#fff"/>
<rect x="654.1" y="503.4" width="4.6" height="6.2" stroke="#333" stroke-width="0.9" fill="#fff"/>
<rect x="213.8" y="315.3" width="9.4" height="6.7" stroke="#333" stroke-width="0.9" fill="#fff"/>
<rect x="654.4" y="315.3" width="9" height="6.7" stroke="#333" stroke-width="0.9" fill="#fff"/>
<line x1="275" y1="287.4" x2="299.4" y2="294.8" stroke="#333" stroke-width="1"/>
<line x1="320.7" y1="294.8" x2="345.6" y2="288" stroke="#333" stroke-width="1"/>
<line x1="428.7" y1="295.1" x2="452.9" y2="288" stroke="#333" stroke-width="1"/>
<line x1="576.7" y1="295.6" x2="603" y2="288" stroke="#333" stroke-width="1"/>
<line x1="271.6" y1="349" x2="296.6" y2="342" stroke="#333" stroke-width="1"/>
<line x1="472" y1="342" x2="497.4" y2="349.5" stroke="#333" stroke-width="1"/>
<line x1="437.9" y1="370.7" x2="446.7" y2="394.5" stroke="#333" stroke-width="1"/>
<line x1="527.8" y1="371.7" x2="520.2" y2="394.5" stroke="#333" stroke-width="1"/>
<line x1="215.7" y1="348" x2="205.7" y2="375.3" stroke="#333" stroke-width="1"/>
<rect x="218.5" y="256" width="2.5" height="4" stroke="#333" stroke-width="0.7" fill="#fff"/>
<rect x="656.2" y="256" width="2.7" height="4" stroke="#333" stroke-width="0.7" fill="#fff"/>
<text x="263.6" y="141.6" font-size="12.5" text-anchor="middle" fill="#303030" font-family="Liberation Sans" textLength="25.5" lengthAdjust="spacingAndGlyphs">ОК-1</text>
<text x="350.2" y="141.6" font-size="12.5" text-anchor="middle" fill="#303030" font-family="Liberation Sans" textLength="25.5" lengthAdjust="spacingAndGlyphs">ОК-1</text>
<text x="438.4" y="141.6" font-size="12.5" text-anchor="middle" fill="#303030" font-family="Liberation Sans" textLength="25.5" lengthAdjust="spacingAndGlyphs">ОК-1</text>
<text x="616.2" y="142.1" font-size="12.5" text-anchor="middle" fill="#303030" font-family="Liberation Sans" textLength="25.5" lengthAdjust="spacingAndGlyphs">ОК-1</text>
<text x="527" y="117" font-size="12.5" text-anchor="middle" fill="#303030" font-family="Liberation Sans" textLength="25.5" lengthAdjust="spacingAndGlyphs">ОК-1</text>
<text x="263.3" y="501.3" font-size="12.5" text-anchor="middle" fill="#303030" font-family="Liberation Sans" textLength="25.5" lengthAdjust="spacingAndGlyphs">ОК-1</text>
<text x="327" y="501.7" font-size="12.5" text-anchor="middle" fill="#303030" font-family="Liberation Sans" textLength="25.5" lengthAdjust="spacingAndGlyphs">ОК-1</text>
<text x="412.9" y="501.7" font-size="12.5" text-anchor="middle" fill="#303030" font-family="Liberation Sans" textLength="25.5" lengthAdjust="spacingAndGlyphs">ОК-1</text>
<text x="461.3" y="501.7" font-size="12.5" text-anchor="middle" fill="#303030" font-family="Liberation Sans" textLength="25.5" lengthAdjust="spacingAndGlyphs">ОК-1</text>
<text x="549.7" y="501.7" font-size="12.5" text-anchor="middle" fill="#303030" font-family="Liberation Sans" textLength="25.5" lengthAdjust="spacingAndGlyphs">ОК-1</text>
<text x="613" y="501.7" font-size="12.5" text-anchor="middle" fill="#303030" font-family="Liberation Sans" textLength="25.5" lengthAdjust="spacingAndGlyphs">ОК-1</text>
<text x="284.4" y="277.8" font-size="12.5" text-anchor="middle" fill="#303030" font-family="Liberation Sans" textLength="19.5" lengthAdjust="spacingAndGlyphs">Д-5</text>
<text x="334.5" y="277.8" font-size="12.5" text-anchor="middle" fill="#303030" font-family="Liberation Sans" textLength="19.5" lengthAdjust="spacingAndGlyphs">Д-4</text>
<text x="442" y="278" font-size="12.5" text-anchor="middle" fill="#303030" font-family="Liberation Sans" textLength="19.5" lengthAdjust="spacingAndGlyphs">Д-4</text>
<text x="590.4" y="278" font-size="12.5" text-anchor="middle" fill="#303030" font-family="Liberation Sans" textLength="19.5" lengthAdjust="spacingAndGlyphs">Д-4</text>
<text x="230.6" y="366.3" font-size="12.5" text-anchor="middle" fill="#303030" font-family="Liberation Sans" textLength="19.5" lengthAdjust="spacingAndGlyphs">Д-3</text>
<text x="281.4" y="363.3" font-size="12.5" text-anchor="middle" fill="#303030" font-family="Liberation Sans" textLength="19.5" lengthAdjust="spacingAndGlyphs">Д-4</text>
<text x="417.6" y="386.7" font-size="12.5" text-anchor="middle" fill="#303030" font-family="Liberation Sans" textLength="19.5" lengthAdjust="spacingAndGlyphs">Д-4</text>
<text x="483.8" y="363" font-size="12.5" text-anchor="middle" fill="#303030" font-family="Liberation Sans" textLength="19.5" lengthAdjust="spacingAndGlyphs">Д-5</text>
<text x="545" y="386.7" font-size="12.5" text-anchor="middle" fill="#303030" font-family="Liberation Sans" textLength="19.5" lengthAdjust="spacingAndGlyphs">Д-5</text>
<text x="224.4" y="310.5" font-size="12.5" text-anchor="start" fill="#303030" font-family="Liberation Sans" textLength="28" lengthAdjust="spacingAndGlyphs">ОК-2</text>
<text x="224.4" y="332.9" font-size="12.5" text-anchor="start" fill="#303030" font-family="Liberation Sans" textLength="28" lengthAdjust="spacingAndGlyphs">ОК-2</text>
<text x="670.6" y="311.1" font-size="12.5" text-anchor="start" fill="#303030" font-family="Liberation Sans" textLength="28" lengthAdjust="spacingAndGlyphs">ОК-2</text>
<text x="670.6" y="333.5" font-size="12.5" text-anchor="start" fill="#303030" font-family="Liberation Sans" textLength="28" lengthAdjust="spacingAndGlyphs">ОК-2</text>
<circle cx="260.7" cy="208.7" r="11.8" stroke="#666" stroke-width="0.9" fill="#fff"/>
<text x="260.7" y="212.73" font-size="12.3" text-anchor="middle" fill="#303030" font-family="Liberation Sans">6</text>
<circle cx="354.3" cy="208.7" r="11.8" stroke="#666" stroke-width="0.9" fill="#fff"/>
<text x="354.3" y="212.73" font-size="12.3" text-anchor="middle" fill="#303030" font-family="Liberation Sans">7</text>
<circle cx="441.3" cy="207.5" r="11.8" stroke="#666" stroke-width="0.9" fill="#fff"/>
<text x="441.3" y="211.53" font-size="12.3" text-anchor="middle" fill="#303030" font-family="Liberation Sans">8</text>
<circle cx="613" cy="208.2" r="11.8" stroke="#666" stroke-width="0.9" fill="#fff"/>
<text x="613" y="212.23" font-size="12.3" text-anchor="middle" fill="#303030" font-family="Liberation Sans">9</text>
<circle cx="438.2" cy="321" r="11.8" stroke="#666" stroke-width="0.9" fill="#fff"/>
<text x="438.2" y="325.03" font-size="12.3" text-anchor="middle" fill="#303030" font-family="Liberation Sans">1</text>
<circle cx="262.9" cy="426.2" r="11.8" stroke="#666" stroke-width="0.9" fill="#fff"/>
<text x="262.9" y="430.23" font-size="12.3" text-anchor="middle" fill="#303030" font-family="Liberation Sans">2</text>
<circle cx="370.7" cy="426.8" r="11.8" stroke="#666" stroke-width="0.9" fill="#fff"/>
<text x="370.7" y="430.83" font-size="12.3" text-anchor="middle" fill="#303030" font-family="Liberation Sans">3</text>
<circle cx="486.3" cy="426.8" r="11.8" stroke="#666" stroke-width="0.9" fill="#fff"/>
<text x="486.3" y="430.83" font-size="12.3" text-anchor="middle" fill="#303030" font-family="Liberation Sans">4</text>
<circle cx="597.8" cy="426.8" r="11.8" stroke="#666" stroke-width="0.9" fill="#fff"/>
<text x="597.8" y="430.83" font-size="12.3" text-anchor="middle" fill="#303030" font-family="Liberation Sans">5</text>
<circle cx="526" cy="142.5" r="11.8" stroke="#666" stroke-width="0.9" fill="#fff"/>
<text x="526" y="147" font-size="12.5" text-anchor="middle" fill="#303030" font-family="Liberation Sans">10</text>
<rect x="508.8" y="157" width="33.7" height="11.8" stroke="#666" stroke-width="0.8" fill="#fff"/>
<text x="525.6" y="166.78" font-size="10.5" text-anchor="middle" fill="#303030" font-family="Liberation Sans" textLength="30" lengthAdjust="spacingAndGlyphs">+1.880</text>
<rect x="513" y="308.2" width="34.7" height="13.4" stroke="#666" stroke-width="0.8" fill="#fff"/>
<text x="530.6" y="318.98" font-size="10.5" text-anchor="middle" fill="#303030" font-family="Liberation Sans" textLength="30" lengthAdjust="spacingAndGlyphs">+3.760</text>
</svg>
</body></html>
